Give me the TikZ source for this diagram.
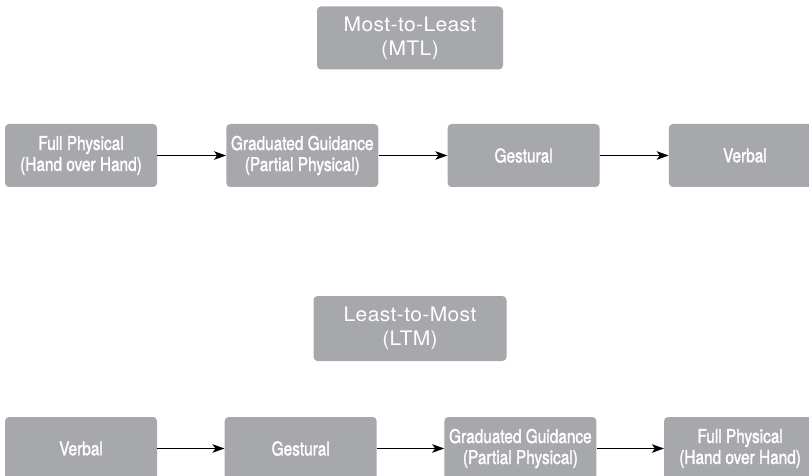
\documentclass[tikz,border=0pt]{standalone}
\usepackage{fontspec}
\setsansfont{TeX Gyre Heros}
\newfontfamily\condfont[FakeStretch=0.81,FakeBold=1.5]{TeX Gyre Heros}
\newfontfamily\titlefont[FakeStretch=1.05,LetterSpace=2]{TeX Gyre Heros}
\usetikzlibrary{arrows.meta}
\definecolor{boxgrey}{HTML}{A7A8AB}
\begin{document}
\begin{tikzpicture}[
          x=1pt, y=-1pt,
          prompt/.style={
            fill=boxgrey, rounded corners=4pt, text=white, align=center,
            minimum width=152pt, minimum height=63pt, inner sep=2pt,
            font=\condfont\fontsize{19}{21}\selectfont, anchor=center
          },
          order/.style={prompt, minimum width=186pt,
            font=\titlefont\fontsize{20}{24}\selectfont},
          fade/.style={-{Stealth[length=12pt,width=8.5pt,inset=3pt]}, line width=1.2pt, black},
        ]
          \useasboundingbox (0,0) rectangle (809,476);
          \def\colsep{221.3}
          \def\lowsep{219.7}

          % Most-to-Least
          \node[order] (mtl) at (410, 38) {Most-to-Least\\(MTL)};
          \node[prompt] (mfull) at (81+0*\colsep, 155.5) {Full Physical\\(Hand over Hand)};
          \node[prompt] (mgrad) at (81+1*\colsep, 155.5) {Graduated Guidance\\(Partial Physical)};
          \node[prompt] (mgest) at (81+2*\colsep, 155.5) {Gestural};
          \node[prompt] (mverb) at (81+3*\colsep, 155.5) {Verbal};

          \draw[fade] (mfull.east) -- (mgrad.west);
          \draw[fade] (mgrad.east) -- (mgest.west);
          \draw[fade] (mgest.east) -- (mverb.west);

          % Least-to-Most
          \node[order, minimum width=193pt, minimum height=65pt] (ltm) at (410, 328.5) {Least-to-Most\\(LTM)};
          \node[prompt] (lverb) at (81+0*\lowsep, 448.5) {Verbal};
          \node[prompt] (lgest) at (81+1*\lowsep, 448.5) {Gestural};
          \node[prompt] (lgrad) at (81+2*\lowsep, 448.5) {Graduated Guidance\\(Partial Physical)};
          \node[prompt] (lfull) at (81+3*\lowsep, 448.5) {Full Physical\\(Hand over Hand)};

          \draw[fade] (lverb.east) -- (lgest.west);
          \draw[fade] (lgest.east) -- (lgrad.west);
          \draw[fade] (lgrad.east) -- (lfull.west);
        \end{tikzpicture}
\end{document}
